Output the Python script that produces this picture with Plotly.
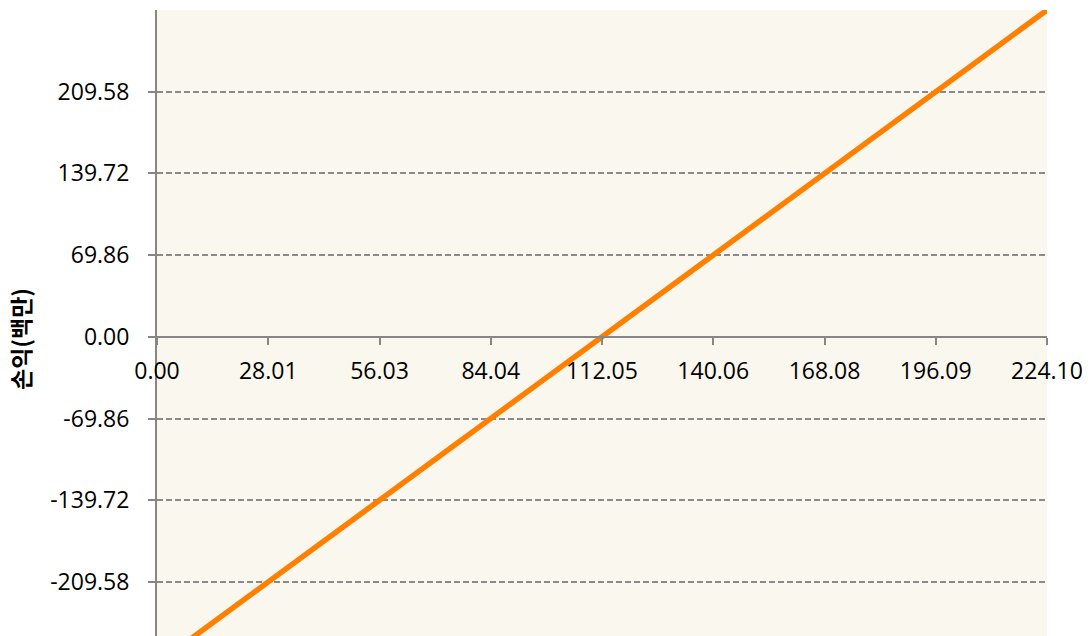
import plotly.graph_objects as go

# Sales (x) vs. profit/loss (y), values in millions
sales = [0.00, 28.01, 56.03, 84.04, 112.05, 140.06, 168.08, 196.09, 224.10]
profit = [-279.44, -209.58, -139.72, -69.86, 0.00, 69.86, 139.72, 209.58, 279.44]

x_ticks = [0.00, 28.01, 56.03, 84.04, 112.05, 140.06, 168.08, 196.09, 224.10]
x_tick_text = ["0.00", "28.01", "56.03", "84.04", "112.05", "140.06", "168.08", "196.09", "224.10"]
y_ticks = [-209.58, -139.72, -69.86, 0.00, 69.86, 139.72, 209.58]
y_tick_text = ["-209.58", "-139.72", "-69.86", "0.00", "69.86", "139.72", "209.58"]

y_title = "손익(백만)"

W, H = 1090, 636
M_L, M_R, M_T, M_B = 157, 43, 10, 0
y_range = [-255.8, 279.44]
x_range = [0.0, 224.10]

# fraction of the plot height where y = 0 sits (the x axis crosses there)
zero_pos = (0 - y_range[0]) / (y_range[1] - y_range[0])

tick_font = dict(family="Open Sans", size=23, color="#000000")
axis_grey = "#868686"

fig = go.Figure()
fig.add_trace(go.Scatter(
    x=sales, y=profit, mode="lines",
    line=dict(color="#FF8000", width=5.5),
    hoverinfo="skip", showlegend=False,
))

fig.update_layout(
    width=W, height=H,
    margin=dict(l=M_L, r=M_R, t=M_T, b=M_B),
    paper_bgcolor="#FFFFFF",
    plot_bgcolor="#FAF7EE",
    showlegend=False,
    xaxis=dict(
        range=x_range,
        anchor="free", position=zero_pos,
        tickvals=x_ticks, ticktext=x_tick_text,
        tickfont=tick_font,
        ticks="outside", ticklen=7, tickwidth=2, tickcolor=axis_grey,
        ticklabelstandoff=7,
        showline=True, linecolor=axis_grey, linewidth=2,
        showgrid=False, zeroline=False,
    ),
    yaxis=dict(
        range=y_range,
        tickvals=y_ticks, ticktext=y_tick_text,
        tickfont=tick_font,
        ticks="outside", ticklen=7, tickwidth=2, tickcolor=axis_grey,
        ticklabelstandoff=14,
        showline=True, linecolor=axis_grey, linewidth=2,
        showgrid=True, gridcolor="#8A8A8A", gridwidth=1.5, griddash="6px,3px",
        zeroline=False,
    ),
    annotations=[dict(
        text=y_title, textangle=-90,
        xref="paper", yref="paper",
        x=(20 - M_L) / (W - M_L - M_R), y=(H - 339) / (H - M_T - M_B),
        xanchor="center", yanchor="middle", showarrow=False,
        font=dict(family="Noto Sans CJK KR", size=23, color="#000000", weight="bold"),
    )],
)

fig.write_html("out.html")
